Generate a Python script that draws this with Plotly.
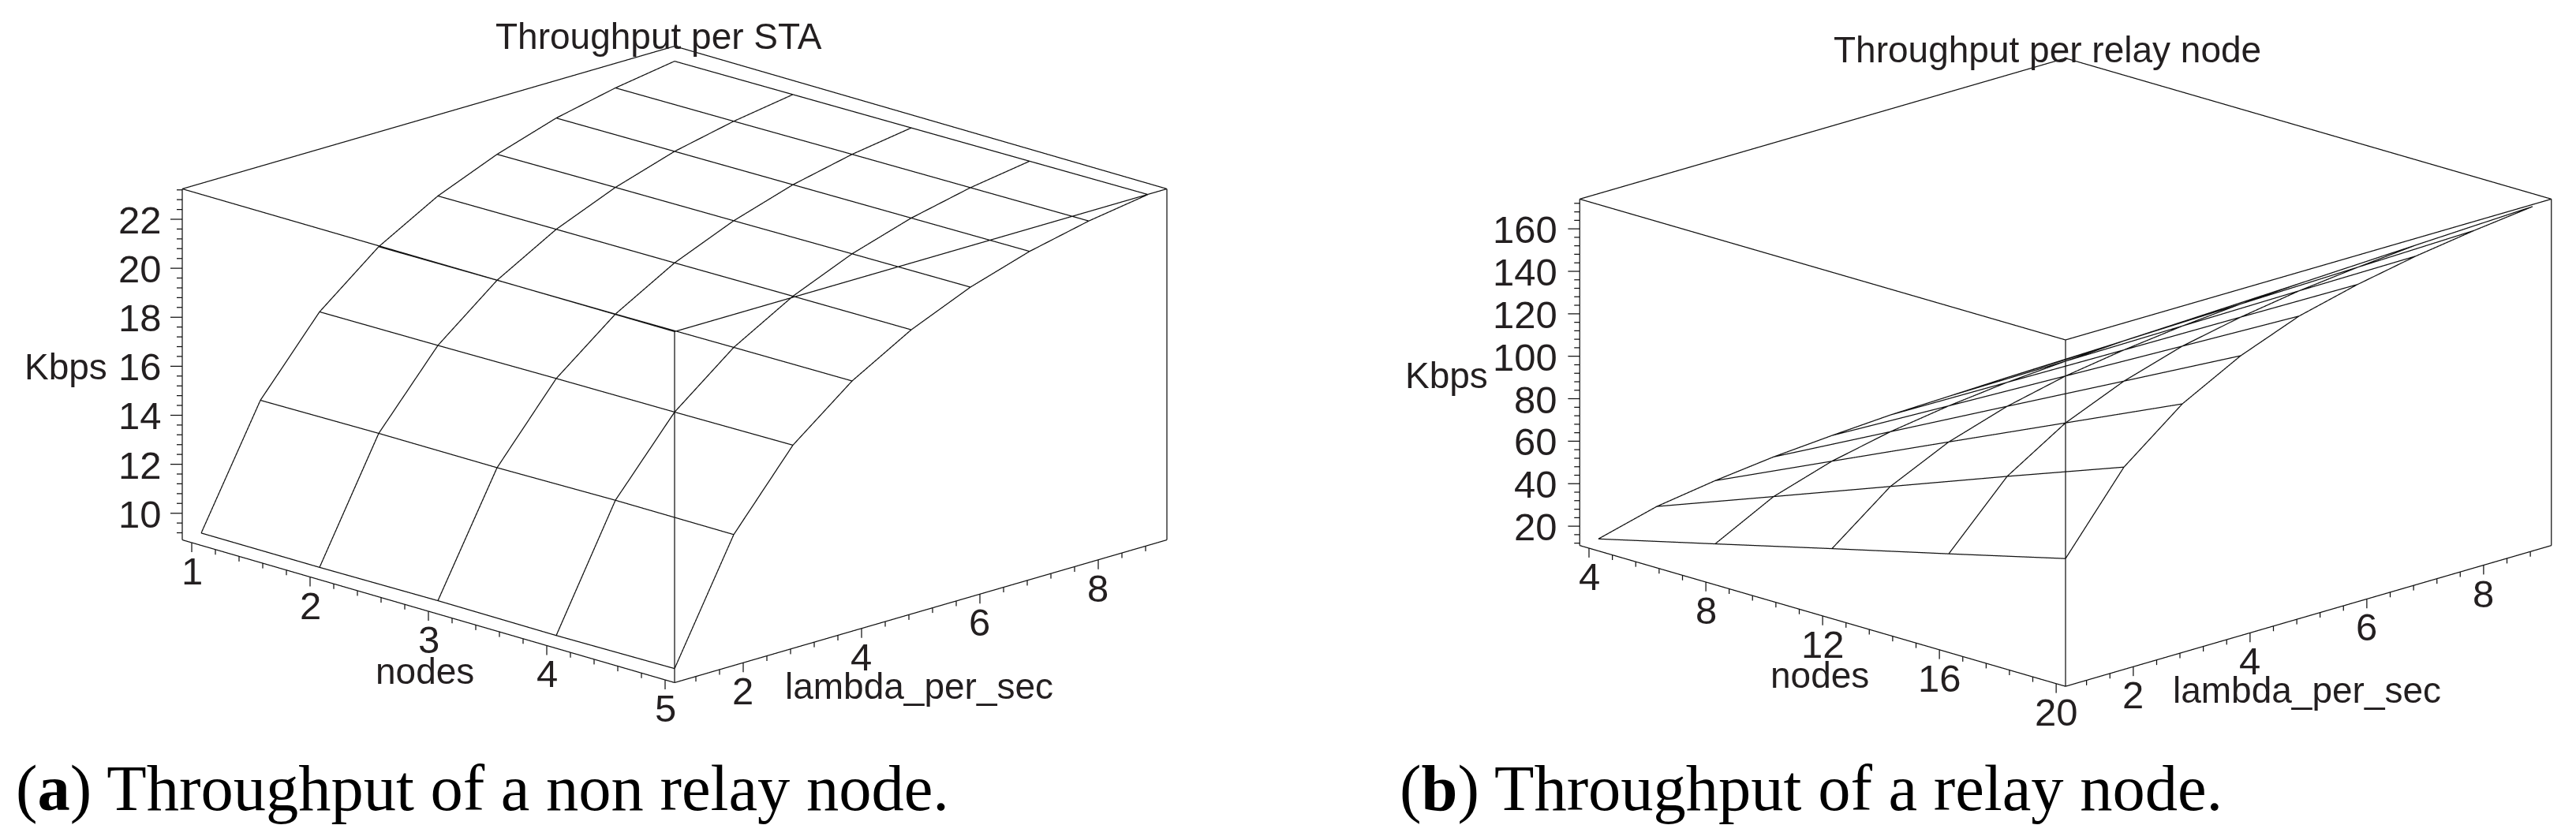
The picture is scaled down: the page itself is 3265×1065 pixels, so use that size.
import numpy as np
import plotly.graph_objects as go

# ---------- data (panel a) ----------
nodes_a = [1, 2, 3, 4, 5]
lambda_vals = [1, 2, 3, 4, 5, 6, 7, 8, 9]
kbps_a = [
    [9.19, 9.19, 9.23, 9.21, 9.26],
    [13.91, 13.96, 13.96, 14.03, 14.03],
    [16.82, 16.85, 16.90, 16.93, 16.98],
    [18.78, 18.81, 18.83, 18.87, 18.90],
    [20.15, 20.19, 20.22, 20.26, 20.29],
    [21.15, 21.20, 21.24, 21.29, 21.33],
    [21.93, 21.97, 22.01, 22.05, 22.09],
    [22.46, 22.50, 22.55, 22.59, 22.63],
    [22.85, 22.89, 22.93, 22.97, 23.01],
]
# ---------- data (panel b) ----------
nodes_b = [4, 8, 12, 16, 20]
kbps_b = [
    [14.0, 27.6, 41.3, 54.8, 68.5],
    [21.3, 41.9, 62.6, 83.3, 103.6],
    [25.5, 50.6, 75.6, 100.5, 125.4],
    [28.7, 56.5, 84.4, 112.2, 140.1],
    [30.8, 60.7, 90.7, 120.7, 150.8],
    [32.5, 63.8, 95.0, 126.4, 157.7],
    [33.3, 65.8, 98.3, 130.8, 163.1],
    [34.2, 67.4, 100.7, 133.9, 167.2],
    [34.6, 68.4, 102.3, 136.4, 170.5],
]
# ---------- axes ----------
box_a = dict(n=(0.92, 5.08), l=(0.84, 9.16), z=(8.91, 23.24))
box_b = dict(n=(3.68, 20.32), l=(0.84, 9.16), z=(10.9, 174.0))
nodes_ticks_a = [1, 2, 3, 4, 5]
nodes_ticks_b = [4, 8, 12, 16, 20]
lambda_ticks = [2, 4, 6, 8]
kbps_ticks_a = [10, 12, 14, 16, 18, 20, 22]
kbps_ticks_b = [20, 40, 60, 80, 100, 120, 140, 160]
titles = ["Throughput per STA", "Throughput per relay node"]
INK = "#231f20"
LINE_INK = "#111111"
SANS = "Liberation Sans"
SERIF = "Liberation Serif"
W, H = 3265, 1065
PAD_H, PAD_Z = 0.02, 0.04
Z_ASPECT = 0.527
ELEV = np.arcsin(0.29)
LINE_W = 2.5


def segs(pairs):
    xs, ys, zs = [], [], []
    for p, q in pairs:
        xs += [p[0], q[0], None]
        ys += [p[1], q[1], None]
        zs += [p[2], q[2], None]
    return xs, ys, zs


def minors(lo, hi, step):
    k0 = int(np.ceil(lo / step))
    k1 = int(np.floor(hi / step))
    return [round(k * step, 6) for k in range(k0, k1 + 1)]


def add_panel(fig, scene, nodes, kbps, box, nt, nstep, zt, zstep, dom_x, dom_y, zoom, shifts):
    (n0, n1), (l0, l1), (z0, z1) = box["n"], box["l"], box["z"]
    dn, dl, dz = n1 - n0, l1 - l0, z1 - z0
    pairs = [
        ((n0, l0, z0), (n1, l0, z0)), ((n1, l0, z0), (n1, l1, z0)),
        ((n0, l0, z0), (n0, l0, z1)), ((n1, l0, z0), (n1, l0, z1)), ((n1, l1, z0), (n1, l1, z1)),
        ((n0, l0, z1), (n1, l0, z1)), ((n1, l0, z1), (n1, l1, z1)),
        ((n0, l0, z1), (n0, l1, z1)), ((n0, l1, z1), (n1, l1, z1)),
    ]
    # tick marks: vertical on screen for the floor axes, horizontal for the height axis
    vmaj, vmin = 12 / 446 * dz, 6.5 / 446 * dz
    hmaj, hmin = 7.5 / 624, 3.5 / 624
    for v in minors(n0, n1, nstep):
        m = v in [float(t) for t in nt]
        pairs.append(((v, l0, z0), (v, l0, z0 - (vmaj if m else vmin))))
    for v in minors(l0, l1, 0.4):
        m = v in [float(t) for t in lambda_ticks]
        pairs.append(((n1, v, z0), (n1, v, z0 - (vmaj if m else vmin))))
    for v in minors(z0, z1, zstep):
        m = v in [float(t) for t in zt]
        f = hmaj if m else hmin
        pairs.append(((n0, l0, v), (n0 - f * dn, l0 - f * dl, v)))
    x, y, z = segs(pairs)
    fig.add_trace(go.Scatter3d(x=x, y=y, z=z, mode="lines", scene=scene, hoverinfo="skip",
                               line=dict(color=LINE_INK, width=LINE_W)))
    # wireframe of the surface
    xs, ys, zs = [], [], []
    for i, lam in enumerate(lambda_vals):
        for j, n in enumerate(nodes):
            xs.append(n); ys.append(lam); zs.append(kbps[i][j])
        xs.append(None); ys.append(None); zs.append(None)
    for j, n in enumerate(nodes):
        for i, lam in enumerate(lambda_vals):
            xs.append(n); ys.append(lam); zs.append(kbps[i][j])
        xs.append(None); ys.append(None); zs.append(None)
    fig.add_trace(go.Scatter3d(x=xs, y=ys, z=zs, mode="lines", scene=scene, hoverinfo="skip",
                               line=dict(color=LINE_INK, width=LINE_W)))
    anns = []
    tick_font = dict(family=SANS, size=49, color=INK)
    lab_font = dict(family=SANS, size=46, color=INK)
    for v in nt:
        anns.append(dict(x=v, y=l0, z=z0, text=str(v), showarrow=False, yshift=-36, font=tick_font,
                         xanchor="center", yanchor="middle"))
    for v in lambda_ticks:
        anns.append(dict(x=n1, y=v, z=z0, text=str(v), showarrow=False, yshift=-36, font=tick_font,
                         xanchor="center", yanchor="middle"))
    for v in zt:
        anns.append(dict(x=n0, y=l0, z=v, text=str(v), showarrow=False, xshift=shifts["zgap"], yshift=-1,
                         font=tick_font, xanchor="right", yanchor="middle"))
    anns.append(dict(x=(nt[0] + nt[-1]) / 2, y=l0, z=z0, text="nodes", showarrow=False, font=lab_font,
                     xshift=shifts["nodes"][0], yshift=shifts["nodes"][1], xanchor="center", yanchor="middle"))
    anns.append(dict(x=n1, y=5, z=z0, text="lambda_per_sec", showarrow=False, font=lab_font,
                     xshift=shifts["lam"][0], yshift=shifts["lam"][1], xanchor="center", yanchor="middle"))
    anns.append(dict(x=n0, y=l0, z=(z0 + z1) / 2, text="Kbps", showarrow=False, font=lab_font,
                     xshift=shifts["kbps"][0], yshift=shifts["kbps"][1], xanchor="center", yanchor="middle"))
    ax = dict(visible=False, showbackground=False, showgrid=False, zeroline=False, showspikes=False)
    ce, se = np.cos(ELEV), np.sin(ELEV)
    eye_r = 3.0
    eye = dict(x=eye_r * ce * np.sqrt(0.5), y=-eye_r * ce * np.sqrt(0.5), z=eye_r * se)
    fig.layout[scene] = dict(
        domain=dict(x=dom_x, y=dom_y),
        xaxis=dict(ax, range=[n0 - PAD_H * dn, n1 + PAD_H * dn]),
        yaxis=dict(ax, range=[l0 - PAD_H * dl, l1 + PAD_H * dl]),
        zaxis=dict(ax, range=[z0 - PAD_Z * dz, z1 + PAD_Z * dz]),
        aspectmode="manual",
        aspectratio=dict(x=zoom * (1 + 2 * PAD_H), y=zoom * (1 + 2 * PAD_H),
                         z=zoom * Z_ASPECT * (1 + 2 * PAD_Z)),
        camera=dict(projection=dict(type="orthographic"), eye=eye,
                    center=dict(x=0, y=0, z=0), up=dict(x=0, y=0, z=1)),
        annotations=anns,
    )


fig = go.Figure()
add_panel(fig, "scene", nodes_a, kbps_a, box_a, nodes_ticks_a, 0.2, kbps_ticks_a, 0.4,
          [0, 1710 / W], [1 - 924 / H, 1], 1.91,
          dict(zgap=-24, nodes=(-5, -76), lam=(-2, -95), kbps=(-148, -3)))
add_panel(fig, "scene2", nodes_b, kbps_b, box_b, nodes_ticks_b, 0.8, kbps_ticks_b, 4,
          [1971 / W, 1], [1 - 944 / H, 1], 1.845,
          dict(zgap=-26, nodes=(-4, -75), lam=(-2, -94), kbps=(-169, -4)))

top = [
    dict(text=titles[0], x=835 / W, y=1 - 46 / H),
    dict(text=titles[1], x=2595 / W, y=1 - 63 / H),
]
ann = []
for t in top:
    ann.append(dict(t, xref="paper", yref="paper", showarrow=False, xanchor="center", yanchor="middle",
                    font=dict(family=SANS, size=46, color=INK)))
for txt, px in [("(<b>a</b>) Throughput of a non relay node.", 18),
                ("(<b>b</b>) Throughput of a relay node.", 1772)]:
    ann.append(dict(text=txt, x=px / W, y=1 - 1023 / H, xref="paper", yref="paper", showarrow=False,
                    xanchor="left", yanchor="bottom", yshift=-24,
                    font=dict(family=SERIF, size=82.5, color="#000000")))

fig.update_layout(width=W, height=H, margin=dict(l=0, r=0, t=0, b=0), paper_bgcolor="white",
                  showlegend=False, annotations=ann)
fig.write_html("out.html", config=dict(displayModeBar=False),
               post_script="document.body.style.margin='0';document.body.style.overflow='hidden';")
